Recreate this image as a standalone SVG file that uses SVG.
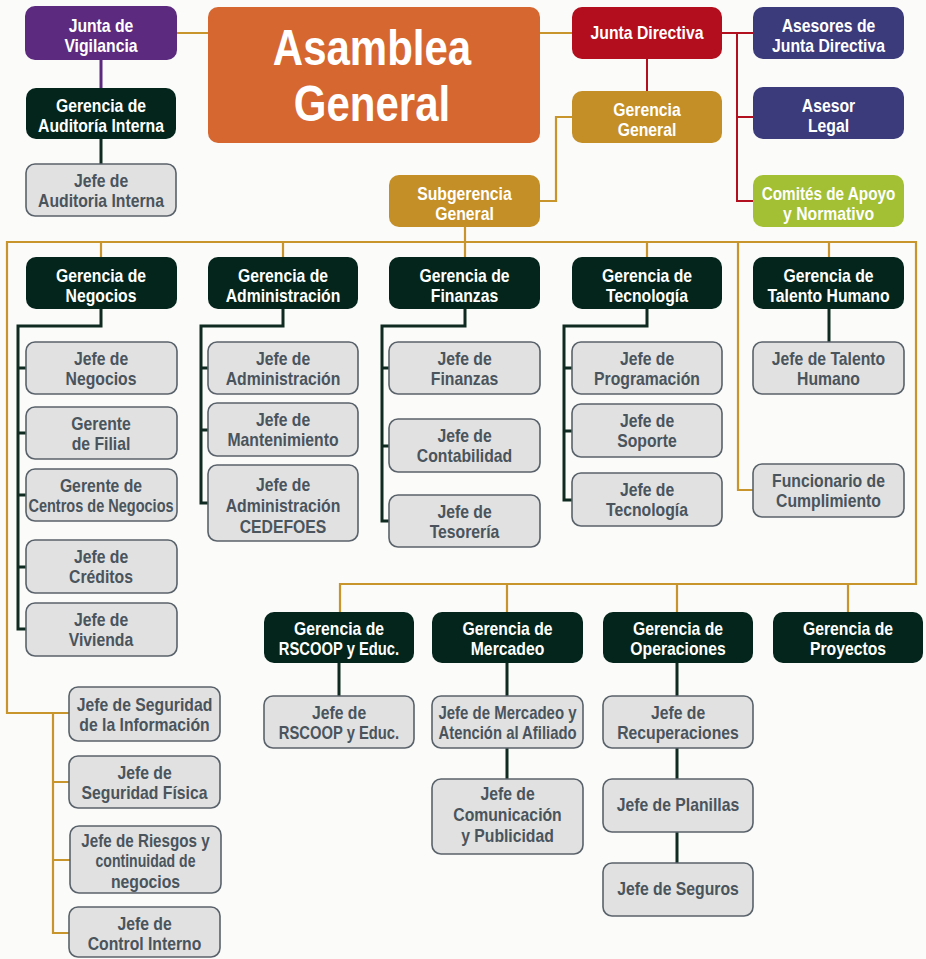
<svg xmlns="http://www.w3.org/2000/svg" width="926" height="959" viewBox="0 0 926 959">
<style>
text{font-family:"Liberation Sans",Arial,sans-serif;font-weight:bold;font-size:17.8px;text-anchor:middle}
.w text{fill:#ffffff}
.k text{fill:#4a545c}
.big text{font-size:50px}
.pu{fill:#5c2a7e}.or{fill:#d66731}.rd{fill:#b30e1d}.nv{fill:#3b3a7b}.gn{fill:#a3bf33}.go{fill:#c48f27}.dk{fill:#03251b}
.gy{fill:#e1e1e1;stroke:#59626a;stroke-width:1.6}
.lg{stroke:#c8952c;stroke-width:2.2;fill:none}
.ld{stroke:#0f2a20;stroke-width:3;fill:none}
.lr{stroke:#b3101f;stroke-width:2;fill:none}
.lp{stroke:#5c2a7e;stroke-width:3;fill:none}
</style>
<rect width="926" height="959" fill="#fbfbf9"/>
<g id="connectors">
<path class="lg" d="M177,33H208M540,33H572M572,117H556V201H540M465,227V242"/>
<path class="lg" d="M69,713H7V242H916V584H340V612M101,242V257M283,242V257M465,242V257M647,242V257M829,242V257M738,242V490H753M507,584V612M677,584V612M848,584V612"/>
<path class="lg" d="M53,713V933H70M53,782H69M53,860H70"/>
<path class="lr" d="M647,59V91M722,33H753M737,33V201H753M737,117H753"/>
<path class="lp" d="M101,60V88"/>
<path class="ld" d="M101,139V164"/>
<path class="ld" d="M101,309V326H18V629H26M18,368H26M18,433H26M18,495H26M18,567H26"/>
<path class="ld" d="M283,309V326H201V503H208M201,368H208M201,430H208"/>
<path class="ld" d="M465,309V326H382V521H389M382,368H389M382,446H389"/>
<path class="ld" d="M647,309V326H564V500H572M564,368H572M564,431H572"/>
<path class="ld" d="M829,309V342"/>
<path class="ld" d="M339,663V696M507,663V696M507,748V779M677,663V696M677,748V779M677,832V863"/>
</g>

<g id="junta-vigilancia" class="w"><rect class="pu" x="25" y="6" width="152" height="54" rx="10"/><text transform="translate(101 0) scale(.885 1)"><tspan x="0" y="32">Junta de</tspan><tspan x="0" y="52">Vigilancia</tspan></text></g>
<g id="asamblea-general" class="w big"><rect class="or" x="208" y="7" width="332" height="136" rx="10"/><text transform="translate(372 0) scale(.84 1)"><tspan x="0" y="65">Asamblea</tspan><tspan x="0" y="121">General</tspan></text></g>
<g id="junta-directiva" class="w"><rect class="rd" x="572" y="7" width="150" height="52" rx="10"/><text transform="translate(647 0) scale(.885 1)" y="39.5">Junta Directiva</text></g>
<g id="asesores-junta" class="w"><rect class="nv" x="753" y="7" width="151" height="52" rx="10"/><text transform="translate(828.5 0) scale(.885 1)"><tspan x="0" y="32">Asesores de</tspan><tspan x="0" y="52">Junta Directiva</tspan></text></g>
<g id="asesor-legal" class="w"><rect class="nv" x="753" y="87" width="151" height="52" rx="10"/><text transform="translate(828.5 0) scale(.885 1)"><tspan x="0" y="112">Asesor</tspan><tspan x="0" y="132">Legal</tspan></text></g>
<g id="comites" class="w"><rect class="gn" x="753" y="175" width="151" height="52" rx="10"/><text transform="translate(828.5 0) scale(.885 1)"><tspan x="0" y="200" textLength="151" lengthAdjust="spacingAndGlyphs">Comités de Apoyo</tspan><tspan x="0" y="220">y Normativo</tspan></text></g>
<g id="gerencia-general" class="w"><rect class="go" x="572" y="91" width="150" height="52" rx="10"/><text transform="translate(647 0) scale(.885 1)"><tspan x="0" y="116">Gerencia</tspan><tspan x="0" y="136">General</tspan></text></g>
<g id="subgerencia-general" class="w"><rect class="go" x="389" y="175" width="151" height="52" rx="10"/><text transform="translate(464.5 0) scale(.885 1)"><tspan x="0" y="200">Subgerencia</tspan><tspan x="0" y="220">General</tspan></text></g>
<g id="gerencia-auditoria" class="w"><rect class="dk" x="26" y="88" width="150" height="51" rx="10"/><text transform="translate(101 0) scale(.885 1)"><tspan x="0" y="112.5">Gerencia de</tspan><tspan x="0" y="132.5">Auditoría Interna</tspan></text></g>
<g id="jefe-auditoria" class="k"><rect class="gy" x="26" y="164" width="150" height="52" rx="9"/><text transform="translate(101 0) scale(.885 1)"><tspan x="0" y="187">Jefe de</tspan><tspan x="0" y="207">Auditoria Interna</tspan></text></g>

<g id="gerencia-negocios" class="w"><rect class="dk" x="26" y="257" width="151" height="52" rx="10"/><text transform="translate(101 0) scale(.885 1)"><tspan x="0" y="282">Gerencia de</tspan><tspan x="0" y="302">Negocios</tspan></text></g>
<g id="gerencia-administracion" class="w"><rect class="dk" x="208" y="257" width="150" height="52" rx="10"/><text transform="translate(283 0) scale(.885 1)"><tspan x="0" y="282">Gerencia de</tspan><tspan x="0" y="302">Administración</tspan></text></g>
<g id="gerencia-finanzas" class="w"><rect class="dk" x="389" y="257" width="151" height="52" rx="10"/><text transform="translate(464.5 0) scale(.885 1)"><tspan x="0" y="282">Gerencia de</tspan><tspan x="0" y="302">Finanzas</tspan></text></g>
<g id="gerencia-tecnologia" class="w"><rect class="dk" x="572" y="257" width="150" height="52" rx="10"/><text transform="translate(647 0) scale(.885 1)"><tspan x="0" y="282">Gerencia de</tspan><tspan x="0" y="302">Tecnología</tspan></text></g>
<g id="gerencia-talento" class="w"><rect class="dk" x="753" y="257" width="151" height="52" rx="10"/><text transform="translate(828.5 0) scale(.885 1)"><tspan x="0" y="282">Gerencia de</tspan><tspan x="0" y="302">Talento Humano</tspan></text></g>

<g id="jefe-negocios" class="k"><rect class="gy" x="26" y="342" width="151" height="52" rx="9"/><text transform="translate(101 0) scale(.885 1)"><tspan x="0" y="365">Jefe de</tspan><tspan x="0" y="385">Negocios</tspan></text></g>
<g id="gerente-filial" class="k"><rect class="gy" x="26" y="407" width="151" height="52" rx="9"/><text transform="translate(101 0) scale(.885 1)"><tspan x="0" y="430">Gerente</tspan><tspan x="0" y="450">de Filial</tspan></text></g>
<g id="gerente-centros" class="k"><rect class="gy" x="26" y="469" width="151" height="52" rx="9"/><text transform="translate(101 0) scale(.885 1)"><tspan x="0" y="492">Gerente de</tspan><tspan x="0" y="512" textLength="164" lengthAdjust="spacingAndGlyphs">Centros de Negocios</tspan></text></g>
<g id="jefe-creditos" class="k"><rect class="gy" x="26" y="540" width="151" height="53" rx="9"/><text transform="translate(101 0) scale(.885 1)"><tspan x="0" y="563.5">Jefe de</tspan><tspan x="0" y="583.5">Créditos</tspan></text></g>
<g id="jefe-vivienda" class="k"><rect class="gy" x="26" y="603" width="151" height="53" rx="9"/><text transform="translate(101 0) scale(.885 1)"><tspan x="0" y="626.5">Jefe de</tspan><tspan x="0" y="646.5">Vivienda</tspan></text></g>

<g id="jefe-administracion" class="k"><rect class="gy" x="208" y="342" width="150" height="52" rx="9"/><text transform="translate(283 0) scale(.885 1)"><tspan x="0" y="365">Jefe de</tspan><tspan x="0" y="385">Administración</tspan></text></g>
<g id="jefe-mantenimiento" class="k"><rect class="gy" x="208" y="403" width="150" height="53" rx="9"/><text transform="translate(283 0) scale(.885 1)"><tspan x="0" y="426.5">Jefe de</tspan><tspan x="0" y="446.5">Mantenimiento</tspan></text></g>
<g id="jefe-cedefoes" class="k"><rect class="gy" x="208" y="465" width="150" height="76" rx="9"/><text transform="translate(283 0) scale(.885 1)"><tspan x="0" y="491">Jefe de</tspan><tspan x="0" y="512">Administración</tspan><tspan x="0" y="533">CEDEFOES</tspan></text></g>

<g id="jefe-finanzas" class="k"><rect class="gy" x="389" y="342" width="151" height="52" rx="9"/><text transform="translate(464.5 0) scale(.885 1)"><tspan x="0" y="365">Jefe de</tspan><tspan x="0" y="385">Finanzas</tspan></text></g>
<g id="jefe-contabilidad" class="k"><rect class="gy" x="389" y="419" width="151" height="53" rx="9"/><text transform="translate(464.5 0) scale(.885 1)"><tspan x="0" y="442.5">Jefe de</tspan><tspan x="0" y="462.5">Contabilidad</tspan></text></g>
<g id="jefe-tesoreria" class="k"><rect class="gy" x="389" y="495" width="151" height="52" rx="9"/><text transform="translate(464.5 0) scale(.885 1)"><tspan x="0" y="518">Jefe de</tspan><tspan x="0" y="538">Tesorería</tspan></text></g>

<g id="jefe-programacion" class="k"><rect class="gy" x="572" y="342" width="150" height="52" rx="9"/><text transform="translate(647 0) scale(.885 1)"><tspan x="0" y="365">Jefe de</tspan><tspan x="0" y="385">Programación</tspan></text></g>
<g id="jefe-soporte" class="k"><rect class="gy" x="572" y="404" width="150" height="53" rx="9"/><text transform="translate(647 0) scale(.885 1)"><tspan x="0" y="427.5">Jefe de</tspan><tspan x="0" y="447.5">Soporte</tspan></text></g>
<g id="jefe-tecnologia" class="k"><rect class="gy" x="572" y="473" width="150" height="53" rx="9"/><text transform="translate(647 0) scale(.885 1)"><tspan x="0" y="496.5">Jefe de</tspan><tspan x="0" y="516.5">Tecnología</tspan></text></g>

<g id="jefe-talento" class="k"><rect class="gy" x="753" y="342" width="151" height="52" rx="9"/><text transform="translate(828.5 0) scale(.885 1)"><tspan x="0" y="365">Jefe de Talento</tspan><tspan x="0" y="385">Humano</tspan></text></g>
<g id="funcionario-cumplimiento" class="k"><rect class="gy" x="753" y="464" width="151" height="53" rx="9"/><text transform="translate(828.5 0) scale(.885 1)"><tspan x="0" y="487.5">Funcionario de</tspan><tspan x="0" y="507.5">Cumplimiento</tspan></text></g>

<g id="gerencia-rscoop" class="w"><rect class="dk" x="264" y="612" width="150" height="51" rx="10"/><text transform="translate(339 0) scale(.885 1)"><tspan x="0" y="635.5">Gerencia de</tspan><tspan x="0" y="655.5" textLength="136" lengthAdjust="spacingAndGlyphs">RSCOOP y Educ.</tspan></text></g>
<g id="gerencia-mercadeo" class="w"><rect class="dk" x="432" y="612" width="151" height="51" rx="10"/><text transform="translate(507.5 0) scale(.885 1)"><tspan x="0" y="635.5">Gerencia de</tspan><tspan x="0" y="655.5">Mercadeo</tspan></text></g>
<g id="gerencia-operaciones" class="w"><rect class="dk" x="603" y="612" width="150" height="51" rx="10"/><text transform="translate(678 0) scale(.885 1)"><tspan x="0" y="635.5">Gerencia de</tspan><tspan x="0" y="655.5">Operaciones</tspan></text></g>
<g id="gerencia-proyectos" class="w"><rect class="dk" x="773" y="612" width="150" height="51" rx="10"/><text transform="translate(848 0) scale(.885 1)"><tspan x="0" y="635.5">Gerencia de</tspan><tspan x="0" y="655.5">Proyectos</tspan></text></g>

<g id="jefe-rscoop" class="k"><rect class="gy" x="264" y="696" width="150" height="52" rx="9"/><text transform="translate(339 0) scale(.885 1)"><tspan x="0" y="719">Jefe de</tspan><tspan x="0" y="739" textLength="136" lengthAdjust="spacingAndGlyphs">RSCOOP y Educ.</tspan></text></g>
<g id="jefe-mercadeo" class="k"><rect class="gy" x="432" y="696" width="151" height="52" rx="9"/><text transform="translate(507.5 0) scale(.885 1)"><tspan x="0" y="719" textLength="156" lengthAdjust="spacingAndGlyphs">Jefe de Mercadeo y</tspan><tspan x="0" y="739" textLength="156" lengthAdjust="spacingAndGlyphs">Atención al Afiliado</tspan></text></g>
<g id="jefe-comunicacion" class="k"><rect class="gy" x="432" y="779" width="151" height="75" rx="9"/><text transform="translate(507.5 0) scale(.885 1)"><tspan x="0" y="800">Jefe de</tspan><tspan x="0" y="821">Comunicación</tspan><tspan x="0" y="842">y Publicidad</tspan></text></g>
<g id="jefe-recuperaciones" class="k"><rect class="gy" x="603" y="696" width="150" height="52" rx="9"/><text transform="translate(678 0) scale(.885 1)"><tspan x="0" y="719">Jefe de</tspan><tspan x="0" y="739">Recuperaciones</tspan></text></g>
<g id="jefe-planillas" class="k"><rect class="gy" x="603" y="779" width="150" height="53" rx="9"/><text transform="translate(678 0) scale(.885 1)" y="811">Jefe de Planillas</text></g>
<g id="jefe-seguros" class="k"><rect class="gy" x="603" y="863" width="150" height="53" rx="9"/><text transform="translate(678 0) scale(.885 1)" y="895">Jefe de Seguros</text></g>

<g id="jefe-seguridad-informacion" class="k"><rect class="gy" x="69" y="687" width="151" height="54" rx="9"/><text transform="translate(144.5 0) scale(.885 1)"><tspan x="0" y="711">Jefe de Seguridad</tspan><tspan x="0" y="731">de la Información</tspan></text></g>
<g id="jefe-seguridad-fisica" class="k"><rect class="gy" x="69" y="756" width="151" height="52" rx="9"/><text transform="translate(144.5 0) scale(.885 1)"><tspan x="0" y="779">Jefe de</tspan><tspan x="0" y="799">Seguridad Física</tspan></text></g>
<g id="jefe-riesgos" class="k"><rect class="gy" x="70" y="826" width="151" height="67" rx="9"/><text transform="translate(145.5 0) scale(.885 1)"><tspan x="0" y="847" textLength="145" lengthAdjust="spacingAndGlyphs">Jefe de Riesgos y</tspan><tspan x="0" y="867.5" textLength="113" lengthAdjust="spacingAndGlyphs">continuidad de</tspan><tspan x="0" y="888">negocios</tspan></text></g>
<g id="jefe-control-interno" class="k"><rect class="gy" x="69" y="907" width="151" height="50" rx="9"/><text transform="translate(144.5 0) scale(.885 1)"><tspan x="0" y="930">Jefe de</tspan><tspan x="0" y="950">Control Interno</tspan></text></g>
</svg>
